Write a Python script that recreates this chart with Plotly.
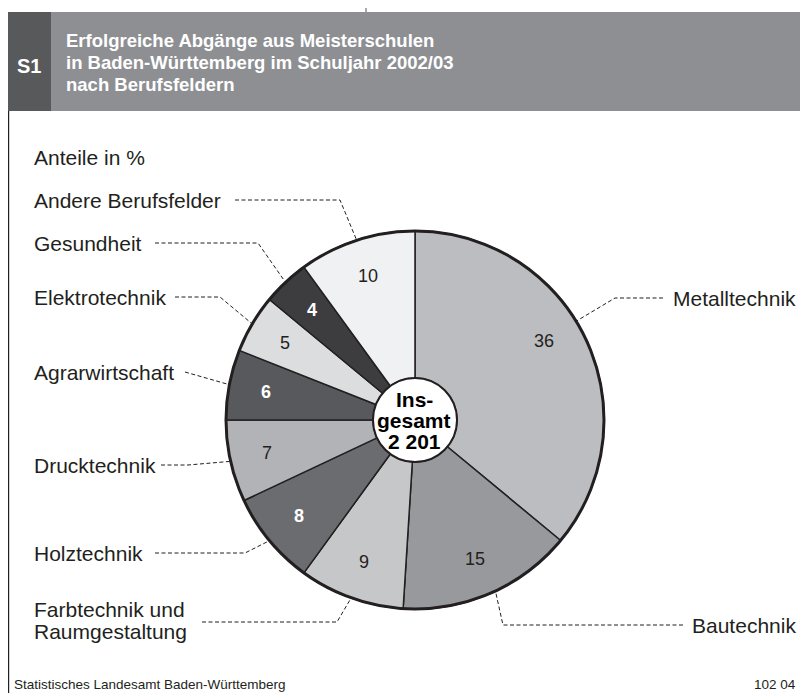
import math
import plotly.graph_objects as go

# ---------------- data ----------------
categories = ["Metalltechnik", "Bautechnik", "Farbtechnik und\nRaumgestaltung", "Holztechnik",
              "Drucktechnik", "Agrarwirtschaft", "Elektrotechnik", "Gesundheit", "Andere Berufsfelder"]
shares = [36, 15, 9, 8, 7, 6, 5, 4, 10]
total_label = ["Ins-", "gesamt", "2 201"]
title_lines = ["Erfolgreiche Abgänge aus Meisterschulen",
               "in Baden-Württemberg im Schuljahr 2002/03",
               "nach Berufsfeldern"]
chart_no = "S1"
unit_text = "Anteile in %"
source_text = "Statistisches Landesamt Baden-Württemberg"
code_text = "102 04"

# ---------------- styles / layout ----------------
slice_colors = ["#bcbdc1", "#98999d", "#c6c7c9", "#6b6c70", "#b2b3b6",
                "#58595c", "#dcdddf", "#3d3d3f", "#f0f1f3"]
DARK = "#231f20"
value_colors = [DARK, DARK, DARK, "white", DARK, "white", DARK, "white", DARK]
value_bold = [False, False, False, True, False, True, False, True, False]

label_side = ["right", "right", "left", "left", "left", "left", "left", "left", "left"]
label_y = [298, 625, 622, 553, 465, 372, 297, 243, 200]
dash_start = [663, 683, 202, 155, 161, 185, 175, 155, 235]
dash_elbow = [615, 503, 337, 245, 188, 185, 220, 258, 340]
anchor_shift = [-0.11, -0.03, 0, 0, 0, 0, 0, 0, 0]   # small angular nudge of leader-line ends (radians)
value_shift = [-0.11, 0, 0, 0, 0, 0, 0, 0, 0]        # small angular nudge of value labels (radians)

# page has an 8px body margin: figure is drawn 8px in, so data coords = screen pixels
OFF = 8
WIN_W, WIN_H = 808, 693
W, H = WIN_W - OFF, WIN_H - OFF
CX, CY, R = 415, 420, 189
HOLE_R = 42
SANS = "Liberation Sans, Arial, Helvetica, sans-serif"

fig = go.Figure()

# pie
fig.add_trace(go.Pie(
    labels=[c.replace("\n", " ") for c in categories], values=shares, sort=False,
    direction="clockwise", rotation=0, hole=HOLE_R / R,
    marker=dict(colors=slice_colors, line=dict(color=DARK, width=1.5)),
    textinfo="none", hoverinfo="label+value", showlegend=False,
    domain=dict(x=[(CX - R - OFF) / W, (CX + R - OFF) / W],
                y=[(H - (CY - OFF) - R) / H, (H - (CY - OFF) + R) / H]),
))

# angles (clockwise from 12 o'clock)
tot = sum(shares)
cum = 0
mids = []
for v in shares:
    mids.append((cum + v / 2) / tot * 2 * math.pi)
    cum += v


def pt(a, r):
    return CX + r * math.sin(a), CY - r * math.cos(a)


annotations = []
# values in slices
for v, a, col, b, s in zip(shares, mids, value_colors, value_bold, value_shift):
    x, y = pt(a + s, 0.8 * R)
    annotations.append(dict(x=x, y=y, xref="x", yref="y", text=f"<b>{v}</b>" if b else str(v),
                            showarrow=False, font=dict(family=SANS, size=18, color=col)))

# leader lines and labels
for name, a, side, ly, ds, de, s in zip(categories, mids, label_side, label_y, dash_start, dash_elbow, anchor_shift):
    ex, ey = pt(a + s, R + 1)
    fig.add_trace(go.Scatter(x=[ds, de, ex], y=[ly, ly, ey], mode="lines",
                             line=dict(color=DARK, width=1, dash="4px,2.5px"),
                             hoverinfo="skip", showlegend=False))
    lines = name.split("\n")
    n = len(lines)
    for i, t in enumerate(lines):
        yy = ly + (i - (n - 1) / 2) * 22 - (2 if n > 1 else 0)
        if side == "left":
            annotations.append(dict(x=32, y=yy, xref="x", yref="y", text=t, showarrow=False,
                                    xanchor="left", font=dict(family=SANS, size=21, color=DARK)))
        else:
            annotations.append(dict(x=798, y=yy, xref="x", yref="y", text=t, showarrow=False,
                                    xanchor="right", font=dict(family=SANS, size=21, color=DARK)))

# center text
for i, t in enumerate(total_label):
    annotations.append(dict(x=CX - 1, y=CY - 21 + i * 21, xref="x", yref="y", text=f"<b>{t}</b>",
                            showarrow=False, font=dict(family=SANS, size=21, color="black")))

# unit
annotations.append(dict(x=32, y=157, xref="x", yref="y", text=unit_text, showarrow=False,
                        xanchor="left", font=dict(family=SANS, size=21, color=DARK)))
# title
for i, t in enumerate(title_lines):
    annotations.append(dict(x=64, y=40 + i * 22, xref="x", yref="y", text=f"<b>{t}</b>", showarrow=False,
                            xanchor="left", font=dict(family=SANS, size=18.5, color="white")))
annotations.append(dict(x=29, y=66, xref="x", yref="y", text=f"<b>{chart_no}</b>", showarrow=False,
                        font=dict(family=SANS, size=20, color="white")))
# footer
annotations.append(dict(x=12, y=684, xref="x", yref="y", text=source_text, showarrow=False,
                        xanchor="left", font=dict(family=SANS, size=13.5, color=DARK)))
annotations.append(dict(x=798, y=684, xref="x", yref="y", text=code_text, showarrow=False,
                        xanchor="right", font=dict(family=SANS, size=13.5, color=DARK)))

shapes = [
    dict(type="line", xref="x", yref="y", x0=366, x1=366, y0=OFF, y1=12, line=dict(color="#555", width=1)),
    dict(type="rect", xref="x", yref="y", x0=OFF, x1=WIN_W, y0=12, y1=111, fillcolor="#8e8f93", line=dict(width=0), layer="below"),
    dict(type="rect", xref="x", yref="y", x0=OFF, x1=51, y0=12, y1=111, fillcolor="#58595b", line=dict(width=0), layer="below"),
    dict(type="line", xref="x", yref="y", x0=OFF + 0.6, x1=OFF + 0.6, y0=111, y1=WIN_H, line=dict(color=DARK, width=1.2)),
    dict(type="circle", xref="x", yref="y", x0=CX - R, x1=CX + R, y0=CY - R, y1=CY + R,
         line=dict(color=DARK, width=3)),
    dict(type="circle", xref="x", yref="y", x0=CX - HOLE_R, x1=CX + HOLE_R, y0=CY - HOLE_R, y1=CY + HOLE_R,
         fillcolor="white", line=dict(color=DARK, width=2)),
]

fig.update_layout(
    width=W, height=H, margin=dict(l=0, r=0, t=0, b=0), autosize=False,
    paper_bgcolor="white", plot_bgcolor="rgba(0,0,0,0)",
    xaxis=dict(range=[OFF, WIN_W], visible=False, fixedrange=True, domain=[0, 1]),
    yaxis=dict(range=[WIN_H, OFF], visible=False, fixedrange=True, domain=[0, 1]),
    annotations=annotations, shapes=shapes, showlegend=False,
)

fig.write_html("out.html")
